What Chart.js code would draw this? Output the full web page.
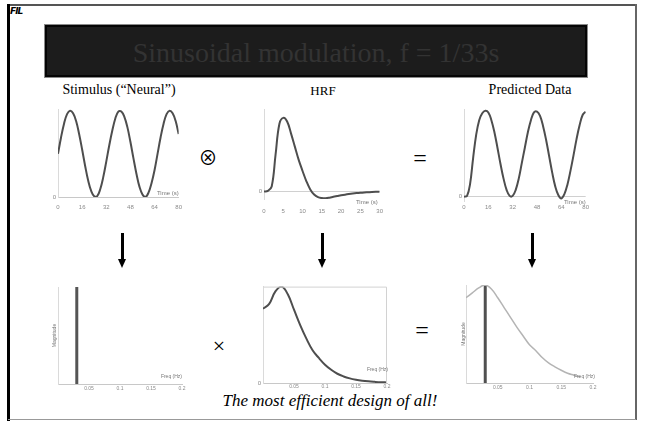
<!DOCTYPE html>
<html>
<head>
<meta charset="utf-8">
<script src="https://cdn.jsdelivr.net/npm/chart.js@4.4.1/dist/chart.umd.min.js"></script>
<style>
  html, body { margin: 0; padding: 0; background: #fff; }
  #slide { position: relative; width: 645px; height: 421px; overflow: hidden; background: #fff; }
  .abs { position: absolute; }
  canvas { position: absolute; }
  .serif { font-family: "Liberation Serif", "Times New Roman", serif; color: #000; white-space: nowrap; }
  .frame-top { left: 8px; top: 4px; width: 629px; height: 2px; background: #555; }
  .frame-right { left: 635px; top: 4px; width: 2px; height: 416px; background: #666; }
  .frame-left { left: 7px; top: 4px; width: 3px; height: 417px; background: #000; }
  .frame-bottom { left: 8px; top: 419px; width: 628px; height: 1px; background: #999; }
  .logo { left: 10px; top: 6px; font: italic bold 9px "DejaVu Sans", sans-serif; letter-spacing: -1px; color: #000; }
  .titlebox { left: 45px; top: 25px; width: 538px; height: 48px; background: #1c1c1c;
              border: 2px solid #050505; box-shadow: 0 0 0 1px #8a8a8a; }
  .title { left: 45px; top: 37px; width: 542px; text-align: center; font-size: 28px; line-height: 32px; color: #333; }
  .otimes { left: 193px; top: 142px; width: 30px; text-align: center;
            font-family: "Noto Sans CJK JP", "Noto Sans CJK SC", sans-serif; font-size: 19px; line-height: 30px; }
  .shaft { width: 3px; height: 28px; background: #000; }
  .head { width: 0; height: 0; border-left: 4.5px solid transparent; border-right: 4.5px solid transparent; border-top: 9px solid #000; }
</style>
</head>
<body>
<div id="slide">
  <div class="abs frame-top"></div>
  <div class="abs frame-right"></div>
  <div class="abs frame-left"></div>
  <div class="abs frame-bottom"></div>
  <div class="abs logo">FIL</div>

  <div class="abs titlebox"></div>
  <div class="abs serif title">Sinusoidal modulation, f = 1/33s</div>

  <div class="abs serif" style="left:40px;top:82px;width:158px;text-align:center;font-size:14px;line-height:16px;">Stimulus (“Neural”)</div>
  <div class="abs serif" style="left:273px;top:83px;width:100px;text-align:center;font-size:13px;line-height:15px;">HRF</div>
  <div class="abs serif" style="left:470px;top:82px;width:120px;text-align:center;font-size:14px;line-height:16px;">Predicted Data</div>

  <div class="abs serif otimes">⊗</div>
  <div class="abs serif" style="left:408px;top:144px;width:24px;text-align:center;font-size:24px;line-height:28px;">=</div>
  <div class="abs serif" style="left:207px;top:333px;width:24px;text-align:center;font-size:22px;line-height:26px;">×</div>
  <div class="abs serif" style="left:410px;top:316px;width:24px;text-align:center;font-size:24px;line-height:28px;">=</div>

  <div class="abs shaft" style="left:121px;top:233px;"></div>
  <div class="abs head" style="left:118px;top:259px;"></div>
  <div class="abs shaft" style="left:321px;top:233px;"></div>
  <div class="abs head" style="left:318px;top:259px;"></div>
  <div class="abs shaft" style="left:531px;top:233px;"></div>
  <div class="abs head" style="left:528px;top:259px;"></div>

  <div class="abs serif" style="left:130px;top:391px;width:400px;text-align:center;font-size:17px;line-height:20px;font-style:italic;">The most efficient design of all!</div>
</div>

<script>
// time axis (s) shared by stimulus and predicted data
const timeSec = [0, 2, 4, 6, 8, 10, 12, 14, 16, 18, 20, 22, 24, 26, 28, 30, 32, 34, 36, 38, 40,
  42, 44, 46, 48, 50, 52, 54, 56, 58, 60, 62, 64, 66, 68, 70, 72, 74, 76, 78, 80];
const stimulus = [0.50, 0.69, 0.85, 0.96, 1.00, 0.97, 0.88, 0.73, 0.55, 0.36, 0.19, 0.07, 0.01, 0.01, 0.09,
  0.23, 0.41, 0.60, 0.77, 0.91, 0.99, 0.99, 0.93, 0.81, 0.64, 0.45, 0.27, 0.12, 0.03, 0.00, 0.05,
  0.16, 0.31, 0.50, 0.69, 0.85, 0.96, 1.00, 0.97, 0.88, 0.73];
const predicted = [0.00, 0.01, 0.15, 0.45, 0.72, 0.89, 0.97, 1.00, 0.98, 0.89, 0.75, 0.57, 0.38, 0.21, 0.08,
  0.01, 0.01, 0.08, 0.21, 0.39, 0.57, 0.75, 0.89, 0.98, 0.99, 0.94, 0.82, 0.66, 0.47, 0.28, 0.12,
  0.02, -0.02, 0.03, 0.14, 0.30, 0.48, 0.67, 0.83, 0.95, 0.99];

// HRF, 1 s steps
const hrfTime = [0, 1, 2, 3, 4, 5, 6, 7, 8, 9, 10, 11, 12, 13, 14, 15, 16, 17, 18, 19, 20,
  21, 22, 23, 24, 25, 26, 27, 28, 29, 30];
const hrf = [0, 0.01, 0.07, 0.50, 0.92, 1.00, 0.95, 0.79, 0.61, 0.43, 0.28, 0.14, 0.03, -0.04, -0.075,
  -0.088, -0.09, -0.082, -0.07, -0.06, -0.05, -0.041, -0.033, -0.026, -0.02, -0.015, -0.011,
  -0.008, -0.005, -0.003, -0.002];

// spectra
const freqHz = [0, 0.01, 0.02, 0.03, 0.04, 0.05, 0.06, 0.07, 0.08, 0.09, 0.10, 0.11, 0.12, 0.13,
  0.14, 0.15, 0.16, 0.17, 0.18, 0.19, 0.20];
const hrfSpectrum = [0.77, 0.82, 0.95, 1.00, 0.92, 0.76, 0.60, 0.46, 0.34, 0.26, 0.19, 0.137, 0.096,
  0.068, 0.048, 0.034, 0.024, 0.017, 0.012, 0.008, 0.006];
const predSpectrum = [0.87, 0.92, 0.97, 1.00, 0.96, 0.87, 0.77, 0.67, 0.57, 0.48, 0.39, 0.33, 0.26,
  0.205, 0.165, 0.13, 0.10, 0.08, 0.06];
const stimFreq = [0.0303, 0.0303];
const stimMagnitude = [0, 1];

// tick labels
const stimTicks = [0, 16, 32, 48, 64, 80];
const hrfTicks = [0, 5, 10, 15, 20, 25, 30];
const freqTicks = [0.05, 0.1, 0.15, 0.2];
const zeroTick = [0];

const pts = (xs, ys) => ys.map((y, i) => ({ x: xs[i], y: y }));

// small text in the plots: axis names at the corner, rotated "Magnitude", box frame
const annot = {
  id: "annot",
  afterDatasetsDraw(chart, args, o) {
    const { ctx, chartArea: a, scales } = chart;
    ctx.save();
    if (o.frame) {
      ctx.strokeStyle = "#d2d2d2";
      ctx.lineWidth = 1;
      ctx.beginPath();
      ctx.moveTo(a.left + 0.5, a.top + 0.5);
      ctx.lineTo(a.right - 0.5, a.top + 0.5);
      ctx.lineTo(a.right - 0.5, a.bottom);
      ctx.stroke();
    }
    ctx.fillStyle = "#777";
    ctx.font = o.size + 'px "Liberation Sans", Arial, sans-serif';
    if (o.corner) {
      ctx.textAlign = "right";
      ctx.textBaseline = "middle";
      ctx.fillText(o.corner, a.right + o.dx, scales.y.getPixelForValue(0) + o.dy);
    }
    if (o.side) {
      ctx.translate(a.left + o.sx, (a.top + a.bottom) / 2);
      ctx.rotate(-Math.PI / 2);
      ctx.textAlign = "center";
      ctx.textBaseline = "middle";
      ctx.fillText(o.side, 0, 0);
    }
    ctx.restore();
  },
};

function makeChart(box, datasets, sx, sy, extra) {
  const cv = document.createElement("canvas");
  cv.width = box.w;
  cv.height = box.h;
  cv.style.left = box.left + "px";
  cv.style.top = box.top + "px";
  document.getElementById("slide").appendChild(cv);
  return new Chart(cv, {
    type: "line",
    data: { datasets: datasets },
    options: {
      responsive: false,
      animation: false,
      events: [],
      layout: { padding: { left: 0, right: box.padR, top: box.padT, bottom: 0 } },
      elements: { point: { radius: 0 } },
      plugins: { legend: { display: false }, tooltip: { enabled: false }, annot: extra },
      scales: {
        x: {
          type: "linear",
          min: sx.min,
          max: sx.max,
          afterBuildTicks: (s) => { s.ticks = sx.ticks.map((v) => ({ value: v })); },
          afterFit: (s) => { s.height = box.xH; },
          ticks: {
            padding: sx.pad,
            maxRotation: 0,
            autoSkip: false,
            color: "#8a8a8a",
            font: { family: "Liberation Sans", size: sx.font },
            callback: (v) => String(v),
          },
          grid: { display: false, drawTicks: false },
          border: { display: sx.border, color: "#c8c8c8", width: 1 },
        },
        y: {
          min: sy.min,
          max: sy.max,
          afterBuildTicks: (s) => { s.ticks = zeroTick.map((v) => ({ value: v })); },
          afterFit: (s) => { s.width = box.yW; },
          ticks: {
            display: sy.label,
            padding: 2,
            color: "#8a8a8a",
            font: { family: "Liberation Sans", size: 6 },
            callback: (v) => String(v),
          },
          grid: { display: sy.zeroLine, drawTicks: false, color: "#d0d0d0" },
          border: { display: true, color: "#dadada", width: 1 },
        },
      },
    },
    plugins: [annot],
  });
}

const dark = "#4e4e4e";

// top row
makeChart(
  { left: 40, top: 101, w: 149, h: 116, padR: 6, padT: 8, yW: 18, xH: 20 },
  [{ data: pts(timeSec, stimulus), borderColor: dark, borderWidth: 2, tension: 0.4 }],
  { min: 0, max: 80, ticks: stimTicks, pad: 7, font: 6, border: true },
  { min: 0, max: 1.02, label: true, zeroLine: false },
  { corner: "Time (s)", dx: 0, dy: -4, size: 6 }
);
makeChart(
  { left: 250, top: 101, w: 142, h: 116, padR: 6, padT: 8, yW: 14, xH: 18 },
  [{ data: pts(hrfTime, hrf), borderColor: dark, borderWidth: 2, tension: 0.4 }],
  { min: 0, max: 30, ticks: hrfTicks, pad: 9, font: 6, border: false },
  { min: -0.1, max: 1.12, label: true, zeroLine: true },
  { corner: "Time (s)", dx: -2, dy: 11, size: 6 }
);
makeChart(
  { left: 450, top: 101, w: 142, h: 116, padR: 6, padT: 8, yW: 14, xH: 16 },
  [{ data: pts(timeSec, predicted), borderColor: dark, borderWidth: 2, tension: 0.4 }],
  { min: 0, max: 80, ticks: stimTicks, pad: 3, font: 6, border: false },
  { min: -0.05, max: 1.02, label: true, zeroLine: true },
  { corner: "Time (s)", dx: 0, dy: 6, size: 6 }
);

// bottom row
makeChart(
  { left: 46, top: 282, w: 142, h: 116, padR: 6, padT: 5, yW: 12, xH: 14 },
  [{ data: pts(stimFreq, stimMagnitude), borderColor: "#555", borderWidth: 3 }],
  { min: 0, max: 0.2, ticks: freqTicks, pad: 2, font: 5, border: true },
  { min: 0, max: 1, label: false, zeroLine: false },
  { corner: "Freq (Hz)", dx: 0, dy: -7, size: 5, side: "Magnitude", sx: -3 }
);
makeChart(
  { left: 251, top: 281, w: 142, h: 116, padR: 6, padT: 5, yW: 12, xH: 14 },
  [{ data: pts(freqHz, hrfSpectrum), borderColor: dark, borderWidth: 2, tension: 0.4 }],
  { min: 0, max: 0.2, ticks: freqTicks, pad: 1, font: 5, border: true },
  { min: 0, max: 1, label: true, zeroLine: false },
  { corner: "Freq (Hz)", dx: 1, dy: -13, size: 5, frame: true }
);
makeChart(
  { left: 454, top: 280, w: 145, h: 117, padR: 6, padT: 5, yW: 12, xH: 14 },
  [
    { data: pts(freqHz, predSpectrum), borderColor: "#b4b4b4", borderWidth: 1.5, tension: 0.4 },
    { data: pts(stimFreq, stimMagnitude), borderColor: "#505050", borderWidth: 3 },
  ],
  { min: 0, max: 0.2, ticks: freqTicks, pad: 2, font: 5, border: true },
  { min: 0, max: 1, label: false, zeroLine: false },
  { corner: "Freq (Hz)", dx: 2, dy: -6, size: 5, side: "Magnitude", sx: -2 }
);
</script>
</body>
</html>
